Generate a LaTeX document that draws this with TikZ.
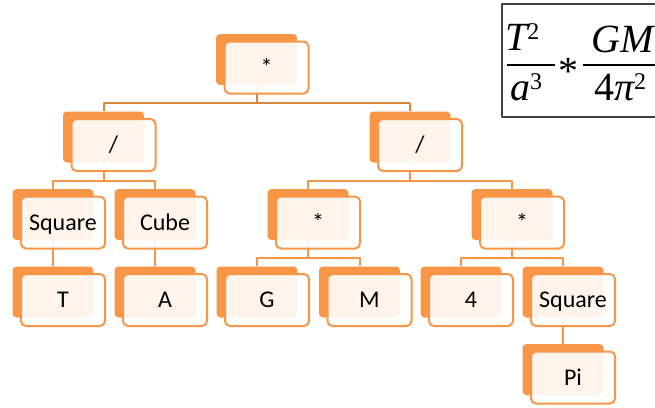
\documentclass[tikz,border=0pt]{standalone}
\usepackage{fontspec}
\setmainfont{Carlito}
\newfontfamily\tms{Liberation Serif}
\newcommand\powr[1]{\raisebox{11pt}{\upshape\fontsize{24}{24}\selectfont #1}}
\definecolor{accent}{HTML}{F79646}
\definecolor{linkdark}{HTML}{D8873F}
\begin{document}
\begin{tikzpicture}[x=1pt, y=-1pt, font=\fontsize{24}{28}\selectfont, line join=round,
    back/.style={fill=accent, rounded corners=4pt, minimum width=81pt, minimum height=51pt, inner sep=0pt},
    front/.style={draw=accent, line width=2pt, fill=white, fill opacity=0.9, text opacity=1,
        rounded corners=5pt, minimum width=84pt, minimum height=52pt, inner sep=0pt,
        text height=15.5pt, text depth=0pt},
    link/.style={draw=accent, line width=2pt},
    frm/.style={anchor=base west, inner sep=0pt, font=\tms\fontsize{40}{44}\selectfont},
    fbar/.style={line width=1.5pt}]
  \useasboundingbox (0,0) rectangle (655,407);
  % orange boxes behind
  \foreach \n/\x/\y in {root/256.5/59.5, dl/103.5/137, dr/410/137,
      sqt/53/214.5, cba/155/214.5, mgm/308/214.5, mpi/512/214.5,
      t/53/292, a/155/292, g/257/292, m/359.5/292, four/461/292, sqpi/563/292,
      pi/563/369.5}
    \node[back] (\n) at (\x,\y) {};
  % tree links
  \foreach \c in {dl,dr}
    \draw[link, draw=linkdark] (root.south) -- ++(0,18) -| (\c.north);
  \foreach \p/\c in {dl/sqt, dl/cba, dr/mgm, dr/mpi, mgm/g, mgm/m, mpi/four, mpi/sqpi}
    \draw[link] (\p.south) -- ++(0,18) -| (\c.north);
  \foreach \p/\c in {sqt/t, cba/a, sqpi/pi}
    \draw[link] (\p.south) -- (\c.north);
  % white boxes with the labels
  \foreach \n/\t in {root/*, dl/{/}, dr/{/}, sqt/Square, cba/Cube, mgm/*, mpi/*,
      t/T, a/A, g/G, m/M, four/4, sqpi/Square, pi/Pi}
    \node[front] (\n-f) at ([shift={(10,8)}]\n.center) {\t};
  % formula in the corner
  \draw[line width=1.2pt, black!75] (700,4) -- (502,4) -- (502,117) -- (700,117);
  \node[frm] (tsq) at (505,50) {\itshape T\powr{2}};
  \draw[fbar] (507,65) -- (555,65);
  \node[frm] (acube) at (510,100) {\itshape a\powr{3}};
  \node[frm] (times) at (558,84) {*};
  \draw[fbar] (583,65) -- (700,65);
  \node[frm] (gm) at (591,52) {\itshape GM};
  \node[frm] (fourpi) at (594,100) {4\itshape π\powr{2}};
\end{tikzpicture}
\end{document}
